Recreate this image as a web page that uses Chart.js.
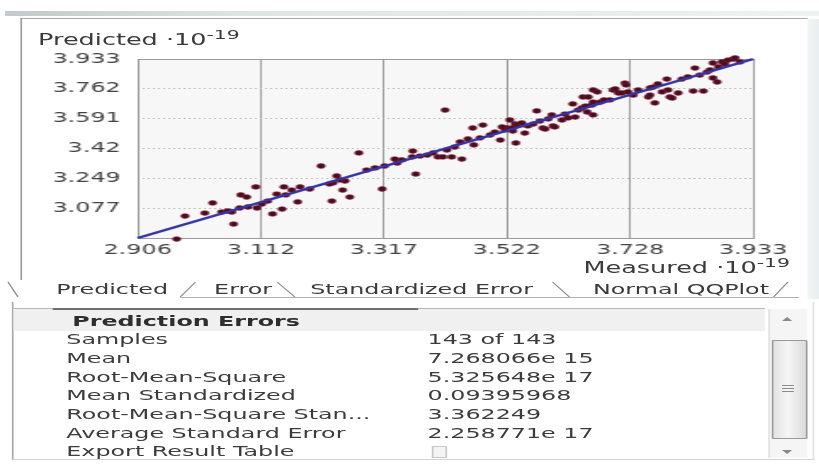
<!DOCTYPE html>
<html><head><meta charset="utf-8">
<script src="https://cdn.jsdelivr.net/npm/chart.js@4.4.1/dist/chart.umd.min.js"></script>
<style>
html,body{margin:0;padding:0;background:#fff;width:819px;height:468px;overflow:hidden}
#w{position:absolute;left:0;top:0;width:481.76px;height:468px;transform:scaleX(1.7);transform-origin:0 0;font-family:'DejaVu Sans',sans-serif;font-size:14px;color:#3a3a3a}
.a{position:absolute;white-space:nowrap;line-height:18px}
.r{position:absolute}
.ttl{font-size:15px}
sup{font-size:12px;vertical-align:6px;line-height:0}
.lab{position:absolute;left:39px;white-space:nowrap;line-height:19px;color:#3c3c3c}
.val{position:absolute;left:251.5px;white-space:nowrap;line-height:19px;color:#3c3c3c}
.tab{position:absolute;top:280px;width:140px;text-align:center;line-height:18px;color:#3a3a3a}
</style></head>
<body>
<div id="w">
  <div class="r" style="left:3px;top:11px;width:479px;height:5px;background:linear-gradient(to right,#c3c8ca,#dfe4e4 30%,#eef3f2)"></div>
  <div class="r" style="left:12.3px;top:18px;width:463px;height:1px;background:#a9a9a9"></div>
  <div class="r" style="left:12.3px;top:18px;width:0.8px;height:262px;background:#9c9c9c"></div>
  <div class="r" style="left:475.3px;top:19px;width:6.5px;height:280px;background:linear-gradient(to right,#f2f5f5,#e9eef0)"></div>
  <div class="r" style="left:0;top:0;width:482px;height:270px"><canvas id="c" width="482" height="270"></canvas></div>
  <div class="a ttl" style="left:22.4px;top:31px">Predicted ·10<sup>-19</sup></div>
  <div class="a ttl" style="right:17px;top:259px">Measured ·10<sup>-19</sup></div>

  <svg class="r" style="left:0;top:0" width="482" height="468">
    <g stroke="#8c8c8c" stroke-width="0.8" fill="none">
      <line x1="4.7" y1="282" x2="10.6" y2="297"/>
      <line x1="115" y1="282" x2="106" y2="297"/>
      <line x1="163" y1="282" x2="173.5" y2="297"/>
      <line x1="325" y1="282" x2="335" y2="297"/>
      <line x1="463.5" y1="282" x2="455" y2="297"/>
      <line x1="106" y1="297.5" x2="470" y2="297.5" stroke="#b0b0b0"/>
    </g>
  </svg>
  <div class="tab" style="left:-4px">Predicted</div>
  <div class="tab" style="left:73px">Error</div>
  <div class="tab" style="left:178px">Standardized Error</div>
  <div class="tab" style="left:330.6px">Normal QQPlot</div>

  <div class="r" style="left:7px;top:302px;width:470px;height:157px;border-left:0.8px solid #a8a8a8;border-bottom:1px solid #d4d4d4;border-right:0.8px solid #e0e0e0"></div>
  <div class="r" style="left:8px;top:309px;width:442px;height:22px;background:#f0f0f0"></div>
  <div class="r" style="left:8px;top:308px;width:442px;height:1px;background:#b8b8b8"></div>
  <div class="r" style="left:30.6px;top:307.5px;width:215px;height:2px;background:#6e6e6e"></div>
  <div class="a" style="left:42.5px;top:312px;font-weight:bold;line-height:19px;color:#2e2e2e">Prediction Errors</div>

  <div class="lab" style="top:329.5px">Samples</div><div class="val" style="top:329.5px">143 of 143</div>
  <div class="lab" style="top:348.5px">Mean</div><div class="val" style="top:348.5px">7.268066e 15</div>
  <div class="lab" style="top:367.5px">Root-Mean-Square</div><div class="val" style="top:367.5px">5.325648e 17</div>
  <div class="lab" style="top:386px">Mean Standardized</div><div class="val" style="top:386px">0.09395968</div>
  <div class="lab" style="top:405px">Root-Mean-Square Stan...</div><div class="val" style="top:405px">3.362249</div>
  <div class="lab" style="top:424px">Average Standard Error</div><div class="val" style="top:424px">2.258771e 17</div>
  <div class="lab" style="top:442px">Export Result Table</div>
  <div class="r" style="left:254px;top:446px;width:7px;height:10px;border:0.6px solid #c8c8c8;background:#f4f4f4"></div>

  <div class="r" style="left:451.8px;top:309px;width:22.5px;height:149px;background:#f5f5f5;border-left:0.6px solid #e2e2e2"></div>
  <div class="r" style="left:460px;top:317px;width:0;height:0;border-left:3px solid transparent;border-right:3px solid transparent;border-bottom:4px solid #8a8a8a"></div>
  <div class="r" style="left:460px;top:450px;width:0;height:0;border-left:3px solid transparent;border-right:3px solid transparent;border-top:4px solid #8a8a8a"></div>
  <div class="r" style="left:454px;top:340px;width:18.5px;height:97px;border:0.7px solid #9a9a9a;border-radius:1px;background:linear-gradient(to right,#e2e2e2,#f6f6f6 45%,#dadada)"></div>
  <div class="r" style="left:459.5px;top:385px;width:7px;height:1px;background:#8a8a8a"></div>
  <div class="r" style="left:459.5px;top:388px;width:7px;height:1px;background:#8a8a8a"></div>
  <div class="r" style="left:459.5px;top:391px;width:7px;height:1px;background:#8a8a8a"></div>
</div>
<script>
// Measured and predicted values (units of 10^19)
const measured = [
2.971,2.985,3.018,3.031,3.046,3.063,3.066,3.078,3.088,3.090,
3.103,3.105,3.113,3.131,3.147,3.138,3.150,3.163,3.173,3.177,
3.212,3.230,3.232,3.238,3.248,3.260,3.252,3.275,3.314,3.335,
3.339,3.347,3.365,3.364,3.370,3.389,3.399,3.407,3.415,3.430,
3.447,3.419,3.444,3.457,3.465,3.467,3.482,3.511,3.522,3.527,
3.536,3.539,3.547,3.537,3.552,3.531,3.519,3.572,3.582,3.586,
3.599,3.597,3.602,3.614,3.624,3.636,3.632,3.647,3.649,3.658,
3.666,3.656,3.666,3.664,3.673,3.666,3.678,3.694,3.699,3.703,
3.708,3.714,3.719,3.721,3.733,3.758,3.761,3.761,3.766,3.769,
3.781,3.789,3.791,3.794,3.798,3.808,3.833,3.850,3.836,3.856,
3.866,3.873,3.866,3.875,3.881,3.891,3.900,3.903,
3.056,3.076,3.123,3.153,3.193,3.226,3.243,3.288,3.302,3.318,
3.377,3.422,3.435,3.477,3.494,3.502,3.514,3.532,3.557,3.566,
3.577,3.591,3.619,3.641,3.653,3.684,3.724,3.741,3.774,3.814,
3.824,3.844,3.861,3.886,3.911];
const predicted = [
2.900,3.032,3.049,3.107,3.055,3.055,2.986,3.153,3.141,3.084,
3.199,3.078,3.101,3.044,3.072,3.158,3.199,3.181,3.113,3.199,
3.319,3.118,3.222,3.262,3.181,3.141,3.233,3.394,3.187,3.359,
3.336,3.354,3.405,3.371,3.273,3.382,3.394,3.371,3.371,3.371,
3.359,3.640,3.457,3.474,3.537,3.440,3.554,3.468,3.537,3.583,
3.560,3.554,3.566,3.451,3.508,3.537,3.526,3.635,3.537,3.531,
3.549,3.612,3.543,3.583,3.595,3.600,3.675,3.652,3.715,3.715,
3.755,3.629,3.612,3.669,3.744,3.686,3.686,3.698,3.755,3.761,
3.738,3.738,3.795,3.784,3.726,3.715,3.767,3.726,3.772,3.681,
3.744,3.818,3.755,3.715,3.709,3.738,3.749,3.749,3.881,3.858,
3.824,3.801,3.910,3.887,3.916,3.927,3.933,3.939,
3.061,3.078,3.118,3.153,3.187,3.216,3.239,3.296,3.308,3.319,
3.376,3.411,3.428,3.480,3.497,3.514,3.543,3.520,3.549,3.560,
3.577,3.589,3.617,3.640,3.663,3.698,3.744,3.755,3.790,3.818,
3.830,3.841,3.870,3.904,3.916];
const fitLineX = [2.906, 3.933];
const fitLineY = [2.906, 3.933];
const xTickValues = [2.906, 3.112, 3.317, 3.522, 3.728, 3.933];
const xTickLabels = ['2.906','3.112','3.317','3.522','3.728','3.933'];
const yTickValues = [3.077, 3.249, 3.42, 3.591, 3.762, 3.933];
const yTickLabels = ['3.077','3.249','3.42','3.591','3.762','3.933'];
const axisMin = 2.906, axisMax = 3.933;

const points = measured.map((m, i) => ({x: m, y: predicted[i]}));
const fit = fitLineX.map((v, i) => ({x: v, y: fitLineY[i]}));

const areaPlugin = {
  id: 'area',
  beforeDraw(chart) {
    const {ctx, chartArea: a} = chart;
    ctx.save();
    ctx.fillStyle = '#f7f7f7';
    ctx.fillRect(a.left, a.top, a.right - a.left, a.bottom - a.top);
    ctx.restore();
  },
  beforeDatasetsDraw(chart) {
    const {ctx, chartArea: a} = chart;
    ctx.save();
    ctx.strokeStyle = '#9a9a9a';
    ctx.lineWidth = 1;
    ctx.strokeRect(Math.round(a.left) + 0.5, Math.round(a.top) + 0.5, Math.round(a.right - a.left), Math.round(a.bottom - a.top));
    ctx.restore();
  }
};

Chart.defaults.font.family = "'DejaVu Sans', sans-serif";
Chart.defaults.font.size = 14;
Chart.defaults.color = '#3a3a3a';

new Chart(document.getElementById('c'), {
  type: 'scatter',
  data: {
    datasets: [
      {data: points, pointRadius: 2.4, pointBackgroundColor: '#4a0e1e', pointBorderColor: 'rgba(130,25,55,0.75)', pointBorderWidth: 0.8, clip: false, order: 2},
      {type: 'line', data: fit, borderColor: '#3434a6', borderWidth: 2.5, pointRadius: 0, fill: false, order: 1, clip: false}
    ]
  },
  options: {
    responsive: false,
    animation: false,
    layout: {padding: {left: 0, right: 39, top: 59, bottom: 0}},
    plugins: {legend: {display: false}, tooltip: {enabled: false}},
    scales: {
      x: {
        type: 'linear', min: axisMin, max: axisMax,
        afterBuildTicks: s => { s.ticks = xTickValues.map(v => ({value: v})); },
        afterFit: s => { s.height = 32; },
        ticks: {padding: 4, color: '#444', callback: (v, i) => xTickLabels[i]},
        grid: {color: '#9c9c9c', lineWidth: 1, drawTicks: false},
        border: {display: false}
      },
      y: {
        type: 'linear', min: axisMin, max: axisMax,
        afterBuildTicks: s => { s.ticks = yTickValues.map(v => ({value: v})); },
        afterFit: s => { s.width = 81; },
        ticks: {padding: 10, color: '#444', callback: (v, i) => yTickLabels[i]},
        grid: {color: '#b4b4b4', lineWidth: 1, drawTicks: false},
        border: {display: false, dash: [1, 2]}
      }
    }
  },
  plugins: [areaPlugin]
});
</script>
</body></html>
